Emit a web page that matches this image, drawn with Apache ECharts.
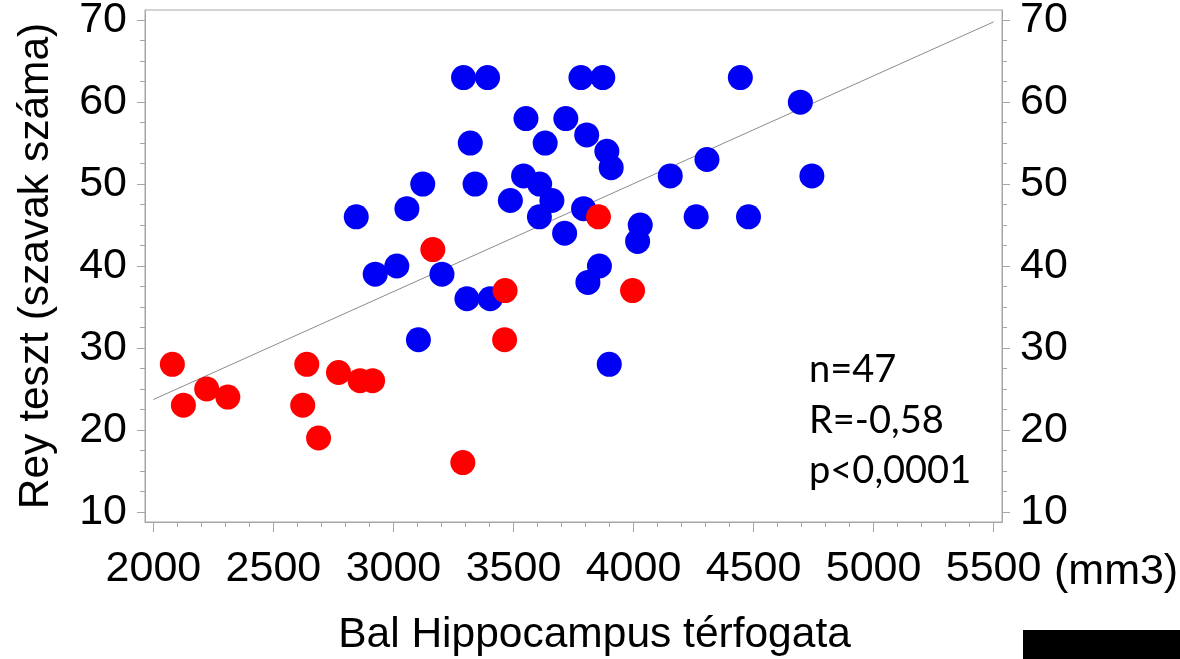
<!DOCTYPE html>
<html><head><meta charset="utf-8">
<script src="https://cdn.jsdelivr.net/npm/echarts@6/dist/echarts.min.js"></script>
<style>html,body{margin:0;padding:0;background:#fff}#c{width:1180px;height:659px}</style>
</head><body><div id="c"></div>
<script>
// Tick values
const xTicks = [2000, 2500, 3000, 3500, 4000, 4500, 5000, 5500];
const xMinorTicks = [2100,2200,2300,2400,2600,2700,2800,2900,3100,3200,3300,3400,3600,3700,3800,3900,4100,4200,4300,4400,4600,4700,4800,4900,5100,5200,5300,5400];
const yTicks = [10, 20, 30, 40, 50, 60, 70];
const yMinorTicks = [12.5,15,17.5,22.5,25,27.5,32.5,35,37.5,42.5,45,47.5,52.5,55,57.5,62.5,65,67.5];

// Series values [volume, score]
const bluePoints = [
  [3292,63],[3392,63],[3781,63],[3872,63],[4445,63],[4695,60],
  [3552,58],[3718,58],[3805,56],[3320,55],[3632,55],[3889,54],
  [3907,52],[4306,53],[3542,51],[4153,51],[4743,51],[3122,50],
  [3340,50],[3609,50],[3487,48],[3660,48],[3056,47],[3792,47],
  [2845,46],[3608,46],[4261,46],[4479,46],[3713,44],[4028,45],
  [4017,43],[3014,40],[3858,40],[2924,39],[3202,39],[3810,38],
  [3306,36],[3403,36],[3104,31],[3899,28]
];
const redPoints = [
  [2079,28],[2125,23],[2222,25],[2310,24],[2639,28],[2622,23],
  [2688,19],[2771,27],[2861,26],[2913,26],[3289,16],[3164,42],
  [3465,37],[3463,31],[3854,46],[3996,37]
];
const regressionLine = [[2000,23.7],[5500,69.8]];
const statLines = ['n=47', 'R=-0,58', 'p<0,0001'];

const AX = '#a6a6a6';
const FONT = 'Liberation Sans, Arial, sans-serif';
const plain = v => String(v);
const chart = echarts.init(document.getElementById('c'), null, {renderer:'canvas'});

function yAxisDef(pos, ticks, len, major){
  return {
    type:'value', min:8.75, max:71.25, position:pos,
    axisLine:{show:major, lineStyle:{color:AX, width:1}},
    axisTick:{show:true, customValues:ticks, length:len, lineStyle:{color:AX}},
    axisLabel:{show:major, customValues:yTicks, formatter:plain, fontSize:43, color:'#000', fontFamily:FONT, margin:18},
    splitLine:{show:false}
  };
}

const leftY = yAxisDef('left', yTicks, 8, true);
leftY.name = 'Rey teszt (szavak száma)';
leftY.nameLocation = 'middle';
leftY.nameGap = 87;
leftY.nameTextStyle = {fontSize:42.5, color:'#000', fontFamily:FONT};

chart.setOption({
  animation:false,
  backgroundColor:'#fff',
  grid:{left:145, right:178, top:10, bottom:137, show:true, borderColor:AX, borderWidth:1,
        backgroundColor:'transparent', containLabel:false, outerBoundsMode:'none'},
  xAxis:[
    {type:'value', min:1965, max:5535, position:'bottom',
     axisLine:{show:true, lineStyle:{color:AX}},
     axisTick:{show:true, customValues:xTicks, length:10, lineStyle:{color:AX}},
     axisLabel:{customValues:xTicks, formatter:plain, fontSize:43, color:'#000', fontFamily:FONT, margin:26},
     splitLine:{show:false},
     name:'Bal Hippocampus térfogata', nameLocation:'middle', nameGap:92,
     nameTextStyle:{fontSize:42.5, color:'#000', fontFamily:FONT, padding:[0,0,0,42]}},
    {type:'value', min:1965, max:5535, position:'bottom',
     axisLine:{show:false},
     axisTick:{show:true, customValues:xMinorTicks, length:5, lineStyle:{color:AX}},
     axisLabel:{show:false}, splitLine:{show:false}}
  ],
  yAxis:[
    leftY,
    yAxisDef('left', yMinorTicks, 5, false),
    yAxisDef('right', yTicks, 8, true),
    yAxisDef('right', yMinorTicks, 5, false)
  ],
  series:[
    {type:'line', data:regressionLine, xAxisIndex:0, yAxisIndex:0, symbol:'none',
     lineStyle:{color:'#8c8c8c', width:1}, z:1, silent:true},
    {type:'scatter', data:bluePoints, xAxisIndex:0, yAxisIndex:0, symbolSize:25,
     itemStyle:{color:'#0000f5', opacity:1}, z:2},
    {type:'scatter', data:redPoints, xAxisIndex:0, yAxisIndex:0, symbolSize:25,
     itemStyle:{color:'#ff0000', opacity:1}, z:3}
  ],
  graphic:[
    {type:'text', left:1054, top:551, style:{text:'(mm3)', font:'43px ' + FONT, fill:'#000'}},
    {type:'text', x:809, y:370, style:{text:statLines[0], font:'38px Lato, sans-serif', fill:'#000', verticalAlign:'middle'}},
    {type:'text', x:809, y:421, style:{text:statLines[1], font:'38px Lato, sans-serif', fill:'#000', verticalAlign:'middle'}},
    {type:'text', x:809, y:471, style:{text:statLines[2], font:'38px Lato, sans-serif', fill:'#000', verticalAlign:'middle'}},
    {type:'rect', shape:{x:1023, y:630, width:157, height:29}, style:{fill:'#000'}}
  ]
});
</script>
</body></html>
